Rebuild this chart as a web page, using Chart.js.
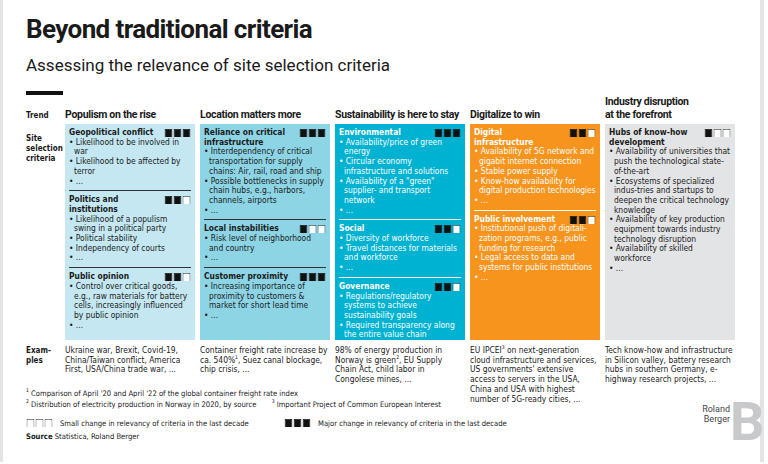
<!DOCTYPE html>
<html><head><meta charset="utf-8">
<script src="https://cdn.jsdelivr.net/npm/chart.js@4"></script>
<style>
body{margin:0;width:768px;height:464px;background:#fff;font-family:"Liberation Sans Narrow","DejaVu Sans Condensed",Roboto,sans-serif;color:#1a1a1a;position:relative;overflow:hidden}
.frame{position:absolute;left:0;top:0;width:764px;height:462px;border-left:3px solid #e3e4e6;border-right:4px solid #e3e4e6;box-sizing:border-box}
h1{position:absolute;left:26px;top:14px;margin:0;font-family:Roboto,sans-serif;font-size:26px;font-weight:700;letter-spacing:-0.6px}
h2{position:absolute;left:26px;top:55px;margin:0;font-family:Roboto,sans-serif;font-size:17px;font-weight:400}
.bar{position:absolute;left:26px;top:91px;width:37px;height:4px;background:#111}
.lbl{position:absolute;left:26px;font-size:8px;font-weight:700;line-height:10px}
.colh{position:absolute;font-family:Roboto,sans-serif;font-size:10.5px;font-weight:700;line-height:12.5px;letter-spacing:-0.3px}
.col{position:absolute;top:124px;height:216px;width:130px;box-sizing:border-box;padding:4px 4px 0 4px}
.sec{position:relative;padding-bottom:4px;margin-bottom:4px}
.sec.rule{border-bottom:1px solid #333}
.sec .t{font-size:8.4px;font-weight:700;line-height:9.7px;padding-right:34px}
.sec canvas{position:absolute;right:0;top:1px}
.sec ul{margin:0;padding:0;list-style:none}
.sec li{font-size:8.4px;line-height:9.7px;padding-left:5px;text-indent:-5px}
.sec li:before{content:"• "}
.ex{position:absolute;top:346px;width:130px;font-size:8.4px;line-height:9.7px}
sup{font-size:5px;line-height:0;vertical-align:4px}
.fn{position:absolute;left:26px;font-size:7.6px;line-height:8px}
.logo{position:absolute;left:690px;top:404px;text-align:right;width:40px;font-family:Roboto,sans-serif;font-size:9px;line-height:10px;color:#444}
.bigb{position:absolute;left:730px;top:392px;font-family:Roboto,sans-serif;font-size:54px;font-weight:700;color:#c8c9cb;line-height:60px}
</style></head><body>
<div class="frame"></div>
<h1>Beyond traditional criteria</h1>
<h2>Assessing the relevance of site selection criteria</h2>
<div class="bar"></div>
<div class="lbl" style="top:111px">Trend</div>
<div class="lbl" style="top:134px">Site<br>selection<br>criteria</div>
<div class="lbl" style="top:346px">Exam-<br>ples</div>
<div id="root"></div>
<div class="fn" style="top:390px"><sup>1</sup> Comparison of April '20 and April '22 of the global container freight rate index</div>
<div class="fn" style="top:401px"><sup>2</sup> Distribution of electricity production in Norway in 2020, by source &nbsp;&nbsp;&nbsp;&nbsp;&nbsp;&nbsp;<sup>3</sup> Important Project of Common European Interest</div>
<div class="fn" style="top:420px;left:60px">Small change in relevancy of criteria in the last decade</div>
<div class="fn" style="top:420px;left:318px">Major change in relevancy of criteria in the last decade</div>
<canvas id="lgSmall" style="position:absolute;left:26px;top:419px"></canvas>
<canvas id="lgMajor" style="position:absolute;left:284px;top:419px"></canvas>
<div class="fn" style="top:433px"><b>Source</b> Statistica, Roland Berger</div>
<div class="bigb">B</div>
<div class="logo">Roland<br>Berger</div>
<script>
const trends = ['Populism on the rise', 'Location matters more', 'Sustainability is here to stay', 'Digitalize to win', 'Industry disruption<br>at the forefront'];
const colColors = ['#c4e7f1', '#8dd4e5', '#00b2d2', '#f7941d', '#e3e4e6'];
const colText = ['#1a1a1a', '#1a1a1a', '#ffffff', '#ffffff', '#1a1a1a'];
const colX = [65, 200, 335, 470, 605];
// criteria per trend: [title, relevance (filled squares of 3), bullets]
const criteria = [
  [['Geopolitical conflict', 3, ['Likelihood to be involved in war', 'Likelihood to be affected by terror', '...']],
   ['Politics and institutions', 2, ['Likelihood of a populism swing in a political party', 'Political stability', 'Independency of courts', '...']],
   ['Public opinion', 2, ['Control over critical goods, e.g., raw materials for battery cells, increasingly influenced by public opinion', '...']]],
  [['Reliance on critical infrastructure', 3, ['Interdependency of critical transportation for supply chains: Air, rail, road and ship', 'Possible bottlenecks in supply chain hubs, e.g., harbors, channels, airports', '...']],
   ['Local instabilities', 1, ['Risk level of neighborhood and country', '...']],
   ['Customer proximity', 3, ['Increasing importance of proximity to customers & market for short lead time', '...']]],
  [['Environmental', 3, ['Availability/price of green energy', 'Circular economy infrastructure and solutions', 'Availability of a "green" supplier- and transport network', '...']],
   ['Social', 2, ['Diversity of workforce', 'Travel distances for materials and workforce', '...']],
   ['Governance', 2, ['Regulations/regulatory systems to achieve sustainability goals', 'Required transparency along the entire value chain', '...']]],
  [['Digital infrastructure', 2, ['Availability of 5G network and gigabit internet connection', 'Stable power supply', 'Know-how availability for digital production technologies', '...']],
   ['Public involvement', 2, ['Institutional push of digitali-zation programs, e.g., public funding for research', 'Legal access to data and systems for public institutions', '...']]],
  [['Hubs of know-how development', 1, ['Availability of universities that push the technological state-of-the-art', 'Ecosystems of specialized indus-tries and startups to deepen the critical technology knowledge', 'Availability of key production equipment towards industry technology disruption', 'Availability of skilled workforce', '...']]]
];
const examples = [
  'Ukraine war, Brexit, Covid-19, China/Taiwan conflict, America First, USA/China trade war, ...',
  'Container freight rate increase by ca. 540%<sup>1</sup>, Suez canal blockage, chip crisis, ...',
  '98% of energy production in Norway is green<sup>2</sup>, EU Supply Chain Act, child labor in Congolese mines, ...',
  'EU IPCEI<sup>3</sup> on next-generation cloud infrastructure and services, US governments\' extensive access to servers in the USA, China and USA with highest number of 5G-ready cities, ...',
  'Tech know-how and infrastructure in Silicon valley, battery research hubs in southern Germany, e-highway research projects, ...'
];
const squareSlots = ['a', 'b', 'c'];
const squareHeight = [1, 1, 1];

function drawSquares(canvas, filled) {
  canvas.width = 27; canvas.height = 8;
  canvas.style.width = '27px'; canvas.style.height = '8px';
  new Chart(canvas, {
    type: 'bar',
    data: {
      labels: squareSlots,
      datasets: [{
        data: squareHeight,
        backgroundColor: squareSlots.map((s, i) => i < filled ? '#111' : '#fff'),
        borderColor: squareSlots.map((s, i) => i < filled ? '#111' : '#333'),
        borderWidth: 0.8,
        barPercentage: 0.86,
        categoryPercentage: 1
      }]
    },
    options: {
      responsive: false, animation: false, events: [], devicePixelRatio: 1,
      layout: { padding: 0 },
      plugins: { legend: { display: false }, tooltip: { enabled: false } },
      scales: { x: { display: false }, y: { display: false, min: 0, max: 1 } }
    }
  });
}

const root = document.getElementById('root');
trends.forEach((t, c) => {
  const h = document.createElement('div');
  h.className = 'colh';
  h.style.left = colX[c] + 'px';
  h.style.top = (c === 4 ? 96 : 109) + 'px';
  h.innerHTML = t;
  root.appendChild(h);

  const col = document.createElement('div');
  col.className = 'col';
  col.style.left = colX[c] + 'px';
  col.style.background = colColors[c];
  col.style.color = colText[c];
  criteria[c].forEach((cr, k) => {
    const sec = document.createElement('div');
    sec.className = 'sec' + (k < criteria[c].length - 1 ? ' rule' : '');
    if (k < criteria[c].length - 1) sec.style.borderColor = colText[c] === '#ffffff' ? '#fff' : '#333';
    sec.innerHTML = '<div class="t">' + cr[0] + '</div><ul>' + cr[2].map(b => '<li>' + b + '</li>').join('') + '</ul>';
    const cv = document.createElement('canvas');
    sec.appendChild(cv);
    col.appendChild(sec);
    drawSquares(cv, cr[1]);
  });
  root.appendChild(col);

  const ex = document.createElement('div');
  ex.className = 'ex';
  ex.style.left = colX[c] + 'px';
  ex.innerHTML = examples[c];
  root.appendChild(ex);
});
drawSquares(document.getElementById('lgSmall'), 0);
drawSquares(document.getElementById('lgMajor'), 3);
</script>
</body></html>
